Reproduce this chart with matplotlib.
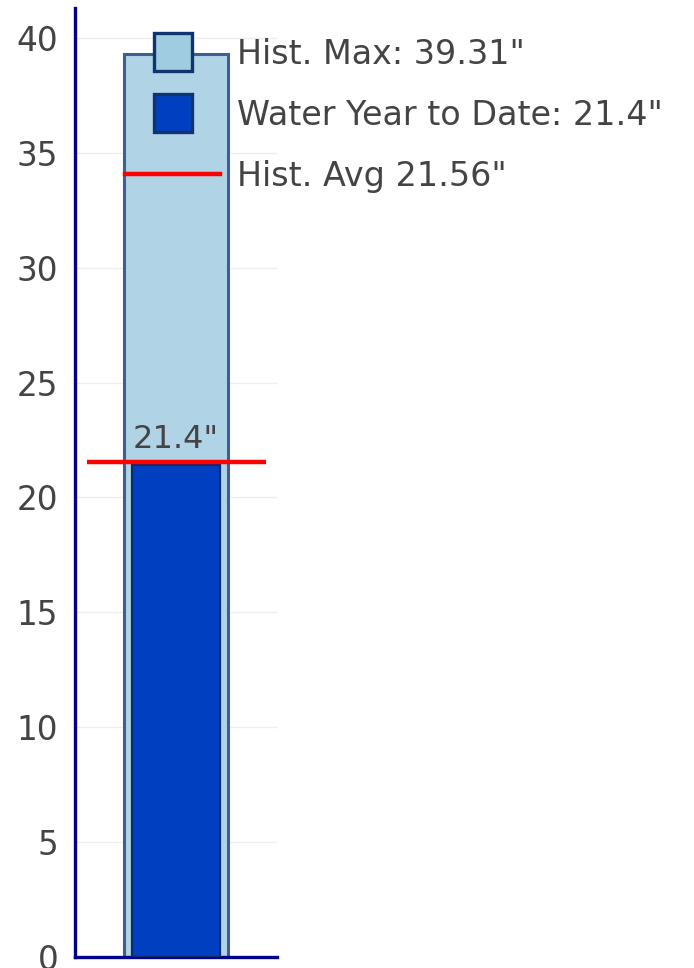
import matplotlib
matplotlib.use('Agg')
import matplotlib.pyplot as plt
from matplotlib.lines import Line2D

hist_max = 39.31
wytd = 21.4
hist_avg = 21.56
labels = ['Hist. Max: 39.31"', 'Water Year to Date: 21.4"', 'Hist. Avg 21.56"']
yticks = [0, 5, 10, 15, 20, 25, 30, 35, 40]

txt = '#444444'
navy = '#00008b'
fs = 23

fig = plt.figure(figsize=(6.94, 9.68), dpi=100)
ax = fig.add_axes([75/694, 1 - 957/968, 202/694, 949/968])

ax.bar(0.5, hist_max, width=0.515, color='#b0d4e6', edgecolor='#3f5f90', linewidth=2.2, zorder=2)
ax.bar(0.5, wytd, width=0.435, color='#0040c0', edgecolor='#0a2a70', linewidth=1.6, zorder=3)
ax.plot([0.06, 0.945], [hist_avg, hist_avg], color='#ff0000', lw=3.2, zorder=4, solid_capstyle='butt')
ax.annotate('21.4"', (0.5, wytd), xytext=(0, 17), textcoords='offset pixels',
            ha='center', va='baseline', fontsize=fs, color=txt, zorder=5)

ax.set_xlim(0, 1)
ax.set_ylim(0, 41.3)
ax.set_xticks([])
ax.set_yticks(yticks)
ax.set_yticklabels([str(t) for t in yticks], fontsize=fs + 0.5, color=txt)
ax.tick_params(axis='y', length=0, pad=12)
ax.yaxis.grid(True, color='#eeeeee', lw=1, zorder=0)
ax.set_axisbelow(True)
for s in ['top', 'right']:
    ax.spines[s].set_visible(False)
for s in ['left', 'bottom']:
    ax.spines[s].set_color(navy)
    ax.spines[s].set_linewidth(2.4)

handles = [
    Line2D([], [], ls='none', marker='s', ms=28, mfc='#a0cce2', mec='#0f3470', mew=2.4),
    Line2D([], [], ls='none', marker='s', ms=28, mfc='#0040c0', mec='#0f3470', mew=2.4),
    Line2D([], [], color='#ff0000', lw=3.2),
]
fig.legend(handles, labels, loc='upper left', bbox_to_anchor=(125/694, 1 - 38/968),
           frameon=False, fontsize=24, labelcolor=txt, borderpad=0, borderaxespad=0,
           handlelength=2.85, handletextpad=0.5, labelspacing=0.84)

fig.savefig('out.png', dpi=100)
